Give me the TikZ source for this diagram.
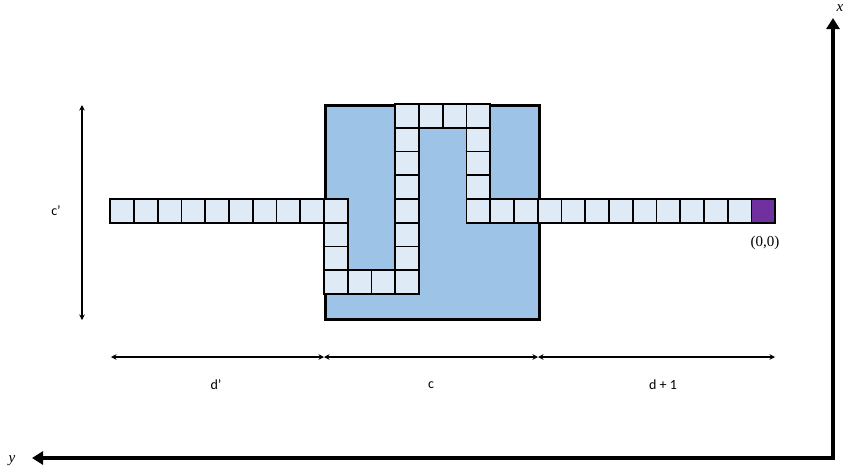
\documentclass[tikz,border=0pt]{standalone}
\usepackage{fontspec}
\newfontfamily\labelfont{Carlito}
\newfontfamily\mathlabfont{Liberation Serif}
\usetikzlibrary{arrows.meta}
\definecolor{cellfill}{HTML}{DEEBF7}
\definecolor{boxfill}{HTML}{9DC3E6}
\definecolor{origfill}{HTML}{7030A0}
\tikzset{
  cellbox/.style={draw=black, fill=cellfill, line width=1.8pt, minimum size=23.75pt, inner sep=0pt, outer sep=0pt},
  origbox/.style={cellbox, fill=origfill},
  dimarrow/.style={line width=1.2pt, {Stealth[length=5.5pt,width=5.5pt]}-{Stealth[length=5.5pt,width=5.5pt]}},
  axisarrow/.style={line width=3.8pt, -{Triangle[length=11pt,width=13pt]}},
  dimlabel/.style={font=\labelfont\fontsize{14}{16}\selectfont, inner sep=1pt},
  mathlabel/.style={font=\mathlabfont\fontsize{15}{17}\selectfont, inner sep=0pt}
}
\begin{document}
\begin{tikzpicture}[x=1pt,y=-1pt]
\useasboundingbox (0,0) rectangle (846,472);
\def\s{23.75}
\def\xo{324}
\def\yo{104}
% big square
\node[draw=black, fill=boxfill, line width=2.8pt, minimum size=213.75pt, inner sep=0pt, anchor=north west] (bigbox) at (\xo,\yo) {};
% path cells (col,row)
\foreach \c/\r [count=\i] in {-9/4,-8/4,-7/4,-6/4,-5/4,-4/4,-3/4,-2/4,-1/4,0/4,
  0/5,0/6,0/7,1/7,2/7,3/7,3/6,3/5,3/4,3/3,3/2,3/1,3/0,4/0,5/0,6/0,6/1,6/2,6/3,6/4,
  7/4,8/4,9/4,10/4,11/4,12/4,13/4,14/4,15/4,16/4,17/4}
  \node[cellbox] (cell\i) at ({\xo+(\c+0.5)*\s},{\yo+(\r+0.5)*\s}) {};
\node[origbox] (orig) at ({\xo+18.5*\s},{\yo+4.5*\s}) {};
\node[mathlabel] (origlabel) at (765,243) {(0,0)};
% dimension arrows
\coordinate (h0) at (111,357);
\coordinate (h1) at (324,357);
\coordinate (h2) at (538,357);
\coordinate (h3) at (775,357);
\draw[dimarrow] (h0) -- (h1);
\draw[dimarrow] (h1) -- (h2);
\draw[dimarrow] (h2) -- (h3);
\node[dimlabel] (dprime) at (216,385) {d’};
\node[dimlabel] (clab) at (431,385) {c};
\node[dimlabel] (dplus) at (663,385) {d + 1};
\coordinate (v0) at (82,105);
\coordinate (v1) at (82,320);
\draw[dimarrow] (v0) -- (v1);
\node[dimlabel] (cprime) at (56,211) {c’};
% axes
\coordinate (origin) at (833,458);
\coordinate (xend) at (833,18);
\coordinate (yend) at (32,458);
\draw[axisarrow] ([yshift=-1.9pt]origin) -- (xend);
\draw[axisarrow] ([xshift=1.9pt]origin) -- (yend);
\node[mathlabel] (xlab) at (840,8) {\itshape x};
\node[mathlabel] (ylab) at (12,461) {\itshape y};
\end{tikzpicture}
\end{document}
